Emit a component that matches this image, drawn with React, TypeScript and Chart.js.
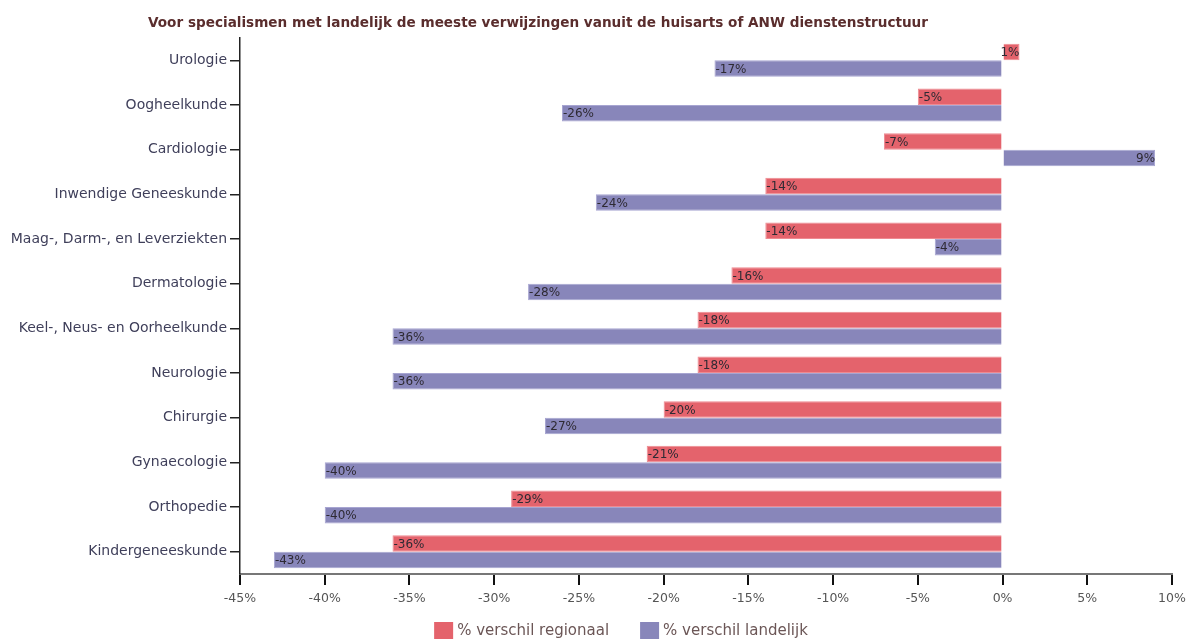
import React, { useEffect, useRef } from "react";
import { Chart, registerables } from "chart.js";

Chart.register(...registerables);

const categories = [
  "Urologie",
  "Oogheelkunde",
  "Cardiologie",
  "Inwendige Geneeskunde",
  "Maag-, Darm-, en Leverziekten",
  "Dermatologie",
  "Keel-, Neus- en Oorheelkunde",
  "Neurologie",
  "Chirurgie",
  "Gynaecologie",
  "Orthopedie",
  "Kindergeneeskunde",
];
const regionaal = [1, -5, -7, -14, -14, -16, -18, -18, -20, -21, -29, -36];
const landelijk = [-17, -26, 9, -24, -4, -28, -36, -36, -27, -40, -40, -43];
const seriesNames = ["% verschil regionaal", "% verschil landelijk"];
const seriesColors = ["#E4636C", "#8886BA"];
const seriesBorders = ["#EE8A91", "#A7A5D1"];
const xMin = -45;
const xMax = 10;
const xStep = 5;
const titleText =
  "Voor specialismen met landelijk de meeste verwijzingen vanuit de huisarts of ANW dienstenstructuur";

const FONT = '"DejaVu Sans", sans-serif';

const titlePlugin = {
  id: "customTitle",
  afterDraw(chart: any) {
    const ctx = chart.ctx;
    ctx.save();
    ctx.font = `bold 14.5px ${FONT}`;
    ctx.fillStyle = "#5a2d2d";
    ctx.textAlign = "left";
    ctx.textBaseline = "alphabetic";
    ctx.fillText(titleText, 148, 27, 780);
    ctx.restore();
  },
};

const legendPlugin = {
  id: "customLegend",
  afterDraw(chart: any) {
    const ctx = chart.ctx;
    ctx.save();
    ctx.font = `15px ${FONT}`;
    const boxW = 19;
    const boxH = 17;
    const gap = 4;
    const spacing = 31;
    const widths = seriesNames.map((n) => boxW + gap + ctx.measureText(n).width);
    const total = widths.reduce((a, b) => a + b, 0) + spacing * (widths.length - 1);
    const centerX = 621;
    const top = 622;
    let x = centerX - total / 2;
    seriesNames.forEach((name, i) => {
      ctx.fillStyle = seriesColors[i];
      ctx.fillRect(x, top, boxW, boxH);
      ctx.fillStyle = "#6b5656";
      ctx.textAlign = "left";
      ctx.textBaseline = "middle";
      ctx.fillText(name, x + boxW + gap, top + boxH / 2 + 1);
      x += widths[i] + spacing;
    });
    ctx.restore();
  },
};

const valueLabelPlugin = {
  id: "valueLabels",
  afterDatasetsDraw(chart: any) {
    const ctx = chart.ctx;
    ctx.save();
    ctx.font = `12px ${FONT}`;
    ctx.fillStyle = "#2e2a33";
    ctx.textBaseline = "middle";
    chart.data.datasets.forEach((ds: any, di: number) => {
      const meta = chart.getDatasetMeta(di);
      meta.data.forEach((bar: any, i: number) => {
        const v = ds.data[i];
        const txt = `${v}%`;
        if (v < 0) {
          ctx.textAlign = "left";
          ctx.fillText(txt, bar.x + 1, bar.y + 1);
        } else {
          ctx.textAlign = "right";
          ctx.fillText(txt, bar.x, bar.y + 1);
        }
      });
    });
    ctx.restore();
  },
};

export default function App() {
  const ref = useRef<HTMLCanvasElement | null>(null);

  useEffect(() => {
    if (!ref.current) return;
    Chart.defaults.font.family = FONT;
    const chart = new Chart(ref.current, {
      type: "bar",
      data: {
        labels: categories,
        datasets: [
          {
            label: seriesNames[0],
            data: regionaal,
            backgroundColor: seriesColors[0],
            borderColor: seriesBorders[0],
            borderWidth: 1,
            categoryPercentage: 0.74,
            barPercentage: 1,
          },
          {
            label: seriesNames[1],
            data: landelijk,
            backgroundColor: seriesColors[1],
            borderColor: seriesBorders[1],
            borderWidth: 1,
            categoryPercentage: 0.74,
            barPercentage: 1,
          },
        ],
      },
      options: {
        indexAxis: "y",
        responsive: false,
        animation: false,
        devicePixelRatio: 1,
        layout: { padding: { left: 0, right: 21, top: 38, bottom: 0 } },
        scales: {
          x: {
            type: "linear",
            min: xMin,
            max: xMax,
            ticks: {
              stepSize: xStep,
              callback: (v: any) => `${v}%`,
              color: "#555",
              font: { size: 12.5 },
              padding: 6,
            },
            grid: {
              display: true,
              drawOnChartArea: false,
              drawTicks: true,
              tickLength: 11,
              tickColor: "#111",
              tickWidth: 2,
              color: "#111",
              lineWidth: 2,
            },
            border: { display: true, color: "#777", width: 2 },
            afterFit: (s: any) => {
              s.height = 65;
            },
          },
          y: {
            ticks: {
              color: "#3f3f5a",
              font: { size: 14 },
              padding: 3,
              autoSkip: false,
            },
            grid: {
              offset: false,
              drawOnChartArea: false,
              tickLength: 10,
              tickColor: "#222",
              tickWidth: 1.5,
              color: "#222",
              lineWidth: 1.5,
            },
            border: { color: "#222", width: 1.5 },
            afterFit: (s: any) => {
              s.width = 240;
            },
          },
        },
        plugins: {
          legend: { display: false },
          tooltip: { enabled: false },
          title: { display: false },
        },
      },
      plugins: [titlePlugin, valueLabelPlugin, legendPlugin],
    } as any);
    return () => chart.destroy();
  }, []);

  return (
    <div
      style={{
        position: "fixed",
        left: 0,
        top: 0,
        width: 1193,
        height: 639,
        background: "#fff",
      }}
    >
      <canvas ref={ref} width={1193} height={639} />
    </div>
  );
}
